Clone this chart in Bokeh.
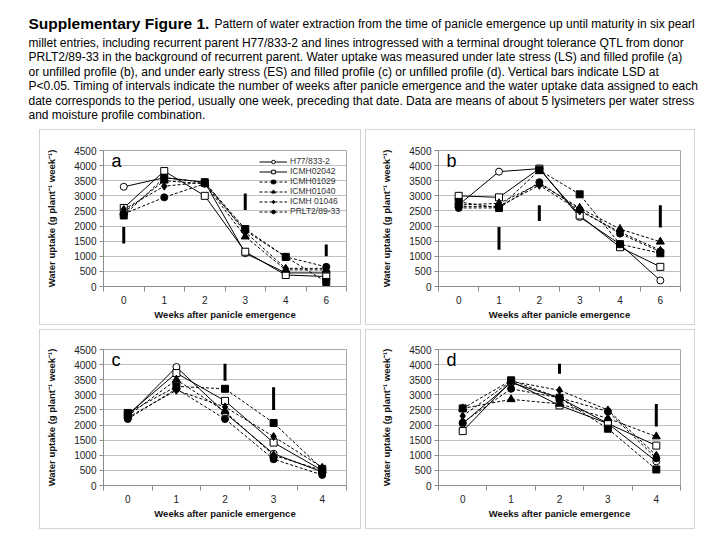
from bokeh.plotting import figure
from bokeh.models import Range1d, FixedTicker, Legend, LegendItem, Label, Spacer
from bokeh.layouts import column, row
from bokeh.embed import file_html
from bokeh.resources import INLINE
from bokeh.core.properties import value

# ---------------- data ----------------
entries = ["H77/833-2", "ICMH02042", "ICMH01029", "ICMH01040", "ICMH 01046", "PRLT2/89-33"]
weeks_ab = ["0", "1", "2", "3", "4", "6"]
weeks_cd = ["0", "1", "2", "3", "4"]
y_ticks = [0, 500, 1000, 1500, 2000, 2500, 3000, 3500, 4000, 4500]

# panel a: late stress, filled profile
a_h77 = [3300, 3600, 3450, 1100, 450, 450]
a_icmh02042 = [2600, 3820, 3000, 1150, 380, 330]
a_icmh01029 = [2350, 3600, 3450, 1900, 980, 150]
a_icmh01040 = [2450, 3500, 3400, 1650, 550, 550]
a_icmh01046 = [2550, 3320, 3450, 1800, 600, 600]
a_prlt = [2400, 2950, 3400, 1850, 980, 650]
a_lsd_x = ["0", "3", "6"]
a_lsd_lo = [1420, 2530, 1000]
a_lsd_hi = [1970, 3080, 1390]

# panel b: late stress, unfilled profile
b_h77 = [2700, 3800, 3900, 2300, 1400, 200]
b_icmh02042 = [3000, 2950, 3900, 2350, 1300, 650]
b_icmh01029 = [2800, 2600, 3850, 3050, 1400, 1100]
b_icmh01040 = [2700, 2750, 3400, 2600, 1900, 1480]
b_icmh01046 = [2650, 2650, 3350, 2500, 1800, 1200]
b_prlt = [2600, 2600, 3450, 2550, 1750, 1150]
b_lsd_x = ["1", "2", "6"]
b_lsd_lo = [1220, 2170, 1950]
b_lsd_hi = [1970, 2690, 2690]

# panel c: early stress, filled profile
c_h77 = [2300, 3920, 2400, 1050, 450]
c_icmh02042 = [2350, 3720, 2800, 1420, 500]
c_icmh01029 = [2400, 3280, 3200, 2070, 550]
c_icmh01040 = [2300, 3500, 2450, 1000, 500]
c_icmh01046 = [2250, 3150, 2600, 1620, 600]
c_prlt = [2200, 3200, 2200, 870, 350]
c_lsd_x = ["2", "3"]
c_lsd_lo = [3470, 2500]
c_lsd_hi = [4030, 3250]

# panel d: early stress, unfilled profile
d_h77 = [2050, 3400, 2900, 2050, 800]
d_icmh02042 = [1800, 3450, 2650, 2050, 1320]
d_icmh01029 = [2550, 3480, 2900, 1880, 530]
d_icmh01040 = [2550, 2850, 2700, 2220, 1620]
d_icmh01046 = [2300, 3450, 3150, 2500, 1000]
d_prlt = [2080, 3200, 2900, 2450, 900]
d_lsd_x = ["2", "4"]
d_lsd_lo = [3700, 1950]
d_lsd_hi = [4030, 2700]

caption_title = "Supplementary Figure 1."
caption_lines = [
    "Pattern of water extraction from the time of panicle emergence up until maturity in six pearl",
    "millet entries, including recurrent parent H77/833-2 and lines introgressed with a terminal drought tolerance QTL from donor",
    "PRLT2/89-33 in the background of recurrent parent. Water uptake was measured under late stress  (LS) and filled profile  (a)",
    "or unfilled profile (b), and under early stress  (ES)  and filled profile  (c) or unfilled profile (d). Vertical bars indicate LSD at",
    "P<0.05. Timing of intervals indicate the number of weeks after panicle emergence and the water uptake data assigned to each",
    "date corresponds to the period, usually one week, preceding that date. Data are means of about 5 lysimeters per water stress",
    "and moisture profile combination.",
]

# ---------------- styles ----------------
STYLES = {
    "H77/833-2": dict(marker="circle", fill="white", dash="solid", size=7),
    "ICMH02042": dict(marker="square", fill="white", dash="solid", size=7),
    "ICMH01029": dict(marker="square", fill="black", dash="3 2", size=7),
    "ICMH01040": dict(marker="triangle", fill="black", dash="3 2", size=8),
    "ICMH 01046": dict(marker="diamond", fill="black", dash="3 2", size=8),
    "PRLT2/89-33": dict(marker="circle", fill="black", dash="3 2", size=7),
}
FONT = "Liberation Sans"


def make_panel(letter, weeks, series, lsd_x, lsd_lo, lsd_hi, width, height,
               left, right, top, bottom, legend=False):
    n = len(weeks)
    p = figure(width=width, height=height, output_backend="svg", toolbar_location=None,
               x_range=Range1d(-0.5, n - 0.5), y_range=Range1d(0, 4500),
               min_border_left=left, min_border_right=right,
               min_border_top=top, min_border_bottom=bottom)
    p.outline_line_color = "#a6a6a6"
    p.background_fill_color = "white"
    p.border_fill_color = "white"
    p.styles = {"outline": "1px solid #d4d4d4"}
    p.xgrid.grid_line_color = None
    p.ygrid.grid_line_color = "#bfbfbf"
    p.ygrid.grid_line_width = 1

    idx = {w: i for i, w in enumerate(weeks)}
    xs = list(range(n))

    p.xaxis.ticker = FixedTicker(ticks=xs, minor_ticks=[i - 0.5 for i in range(n + 1)])
    p.xaxis.major_label_overrides = {i: w for i, w in enumerate(weeks)}
    p.xaxis.major_tick_out = 0
    p.xaxis.major_tick_in = 0
    p.xaxis.minor_tick_out = 5
    p.xaxis.minor_tick_in = 0
    p.xaxis.minor_tick_line_color = "#8c8c8c"
    p.xaxis.axis_line_color = "#8c8c8c"
    p.xaxis.major_label_standoff = 4
    p.xaxis.axis_label = "Weeks after panicle emergence"
    p.xaxis.axis_label_standoff = 2

    p.yaxis.ticker = FixedTicker(ticks=y_ticks, minor_ticks=[])
    p.yaxis.major_tick_out = 4
    p.yaxis.major_tick_in = 0
    p.yaxis.major_tick_line_color = "#8c8c8c"
    p.yaxis.axis_line_color = "#8c8c8c"
    p.yaxis.major_label_standoff = 3
    p.yaxis.axis_label = "Water uptake (g plant\u207b\u00b9 week\u207b\u00b9)"
    p.yaxis.axis_label_standoff = 14

    for ax in (p.xaxis, p.yaxis):
        ax.major_label_text_font = FONT
        ax.major_label_text_font_size = "10px"
        ax.major_label_text_color = "#222222"
        ax.axis_label_text_font = FONT
        ax.axis_label_text_font_size = "9.5px"
        ax.axis_label_text_font_style = "bold"
        ax.axis_label_text_color = "#111111"

    items = []
    for name in entries:
        st = STYLES[name]
        vals = series[name]
        ln = p.line(xs, vals, line_color="black", line_width=1, line_dash=st["dash"])
        sc = p.scatter(xs, vals, marker=st["marker"], size=st["size"],
                       fill_color=st["fill"], line_color="black", line_width=1)
        items.append(LegendItem(label=name, renderers=[ln, sc]))

    p.segment(x0=[idx[w] for w in lsd_x], y0=lsd_lo, x1=[idx[w] for w in lsd_x], y1=lsd_hi,
              line_color="black", line_width=3)

    p.add_layout(Label(x=-0.5 + 8.0 / (243.0 / n), y=4500, text=letter,
                       text_baseline="top", text_font=FONT, text_font_size="18px",
                       text_color="black"))

    if legend:
        lg = Legend(items=items, location=(156, 70), background_fill_alpha=0,
                    border_line_color=None, label_text_font=FONT,
                    label_text_font_size="8.5px", label_text_color="#333333",
                    glyph_width=28, glyph_height=9, label_height=9, spacing=0,
                    padding=1, margin=0, label_standoff=3)
        p.add_layout(lg)
    return p


def series_of(*lists):
    return dict(zip(entries, lists))


pa = make_panel("a", weeks_ab, series_of(a_h77, a_icmh02042, a_icmh01029, a_icmh01040, a_icmh01046, a_prlt),
                a_lsd_x, a_lsd_lo, a_lsd_hi, 320, 194, 63, 14, 20, 38, legend=True)
pb = make_panel("b", weeks_ab, series_of(b_h77, b_icmh02042, b_icmh01029, b_icmh01040, b_icmh01046, b_prlt),
                b_lsd_x, b_lsd_lo, b_lsd_hi, 328, 194, 72, 14, 20, 38)
pc = make_panel("c", weeks_cd, series_of(c_h77, c_icmh02042, c_icmh01029, c_icmh01040, c_icmh01046, c_prlt),
                c_lsd_x, c_lsd_lo, c_lsd_hi, 320, 198, 63, 14, 19, 43)
pd_ = make_panel("d", weeks_cd, series_of(d_h77, d_icmh02042, d_icmh01029, d_icmh01040, d_icmh01046, d_prlt),
                 d_lsd_x, d_lsd_lo, d_lsd_hi, 328, 198, 72, 14, 19, 43)

# ---------------- caption ----------------
cap = figure(width=704, height=130, output_backend="svg", toolbar_location=None,
             x_range=Range1d(0, 704), y_range=Range1d(130, 0),
             min_border=0, min_border_left=0, min_border_right=0,
             min_border_top=0, min_border_bottom=0)
cap.axis.visible = False
cap.grid.visible = False
cap.outline_line_color = None
cap.text(x=[28], y=[23], text=[caption_title], text_font=value(FONT),
         text_font_style="bold", text_font_size="15.5px", text_baseline="alphabetic",
         text_color="black")
cap.text(x=[214], y=[23], text=[caption_lines[0]], text_font=value(FONT),
         text_font_size="12px", text_baseline="alphabetic", text_color="black")
cap.text(x=[28] * 6, y=[42, 56.5, 71, 85.5, 100, 114.5], text=caption_lines[1:],
         text_font=value(FONT), text_font_size="12px", text_baseline="alphabetic",
         text_color="black")

layout = column(cap,
                row(Spacer(width=40), pa, Spacer(width=6), pb),
                Spacer(height=6),
                row(Spacer(width=40), pc, Spacer(width=6), pd_))

open("out.html", "w").write(file_html(layout, INLINE))
